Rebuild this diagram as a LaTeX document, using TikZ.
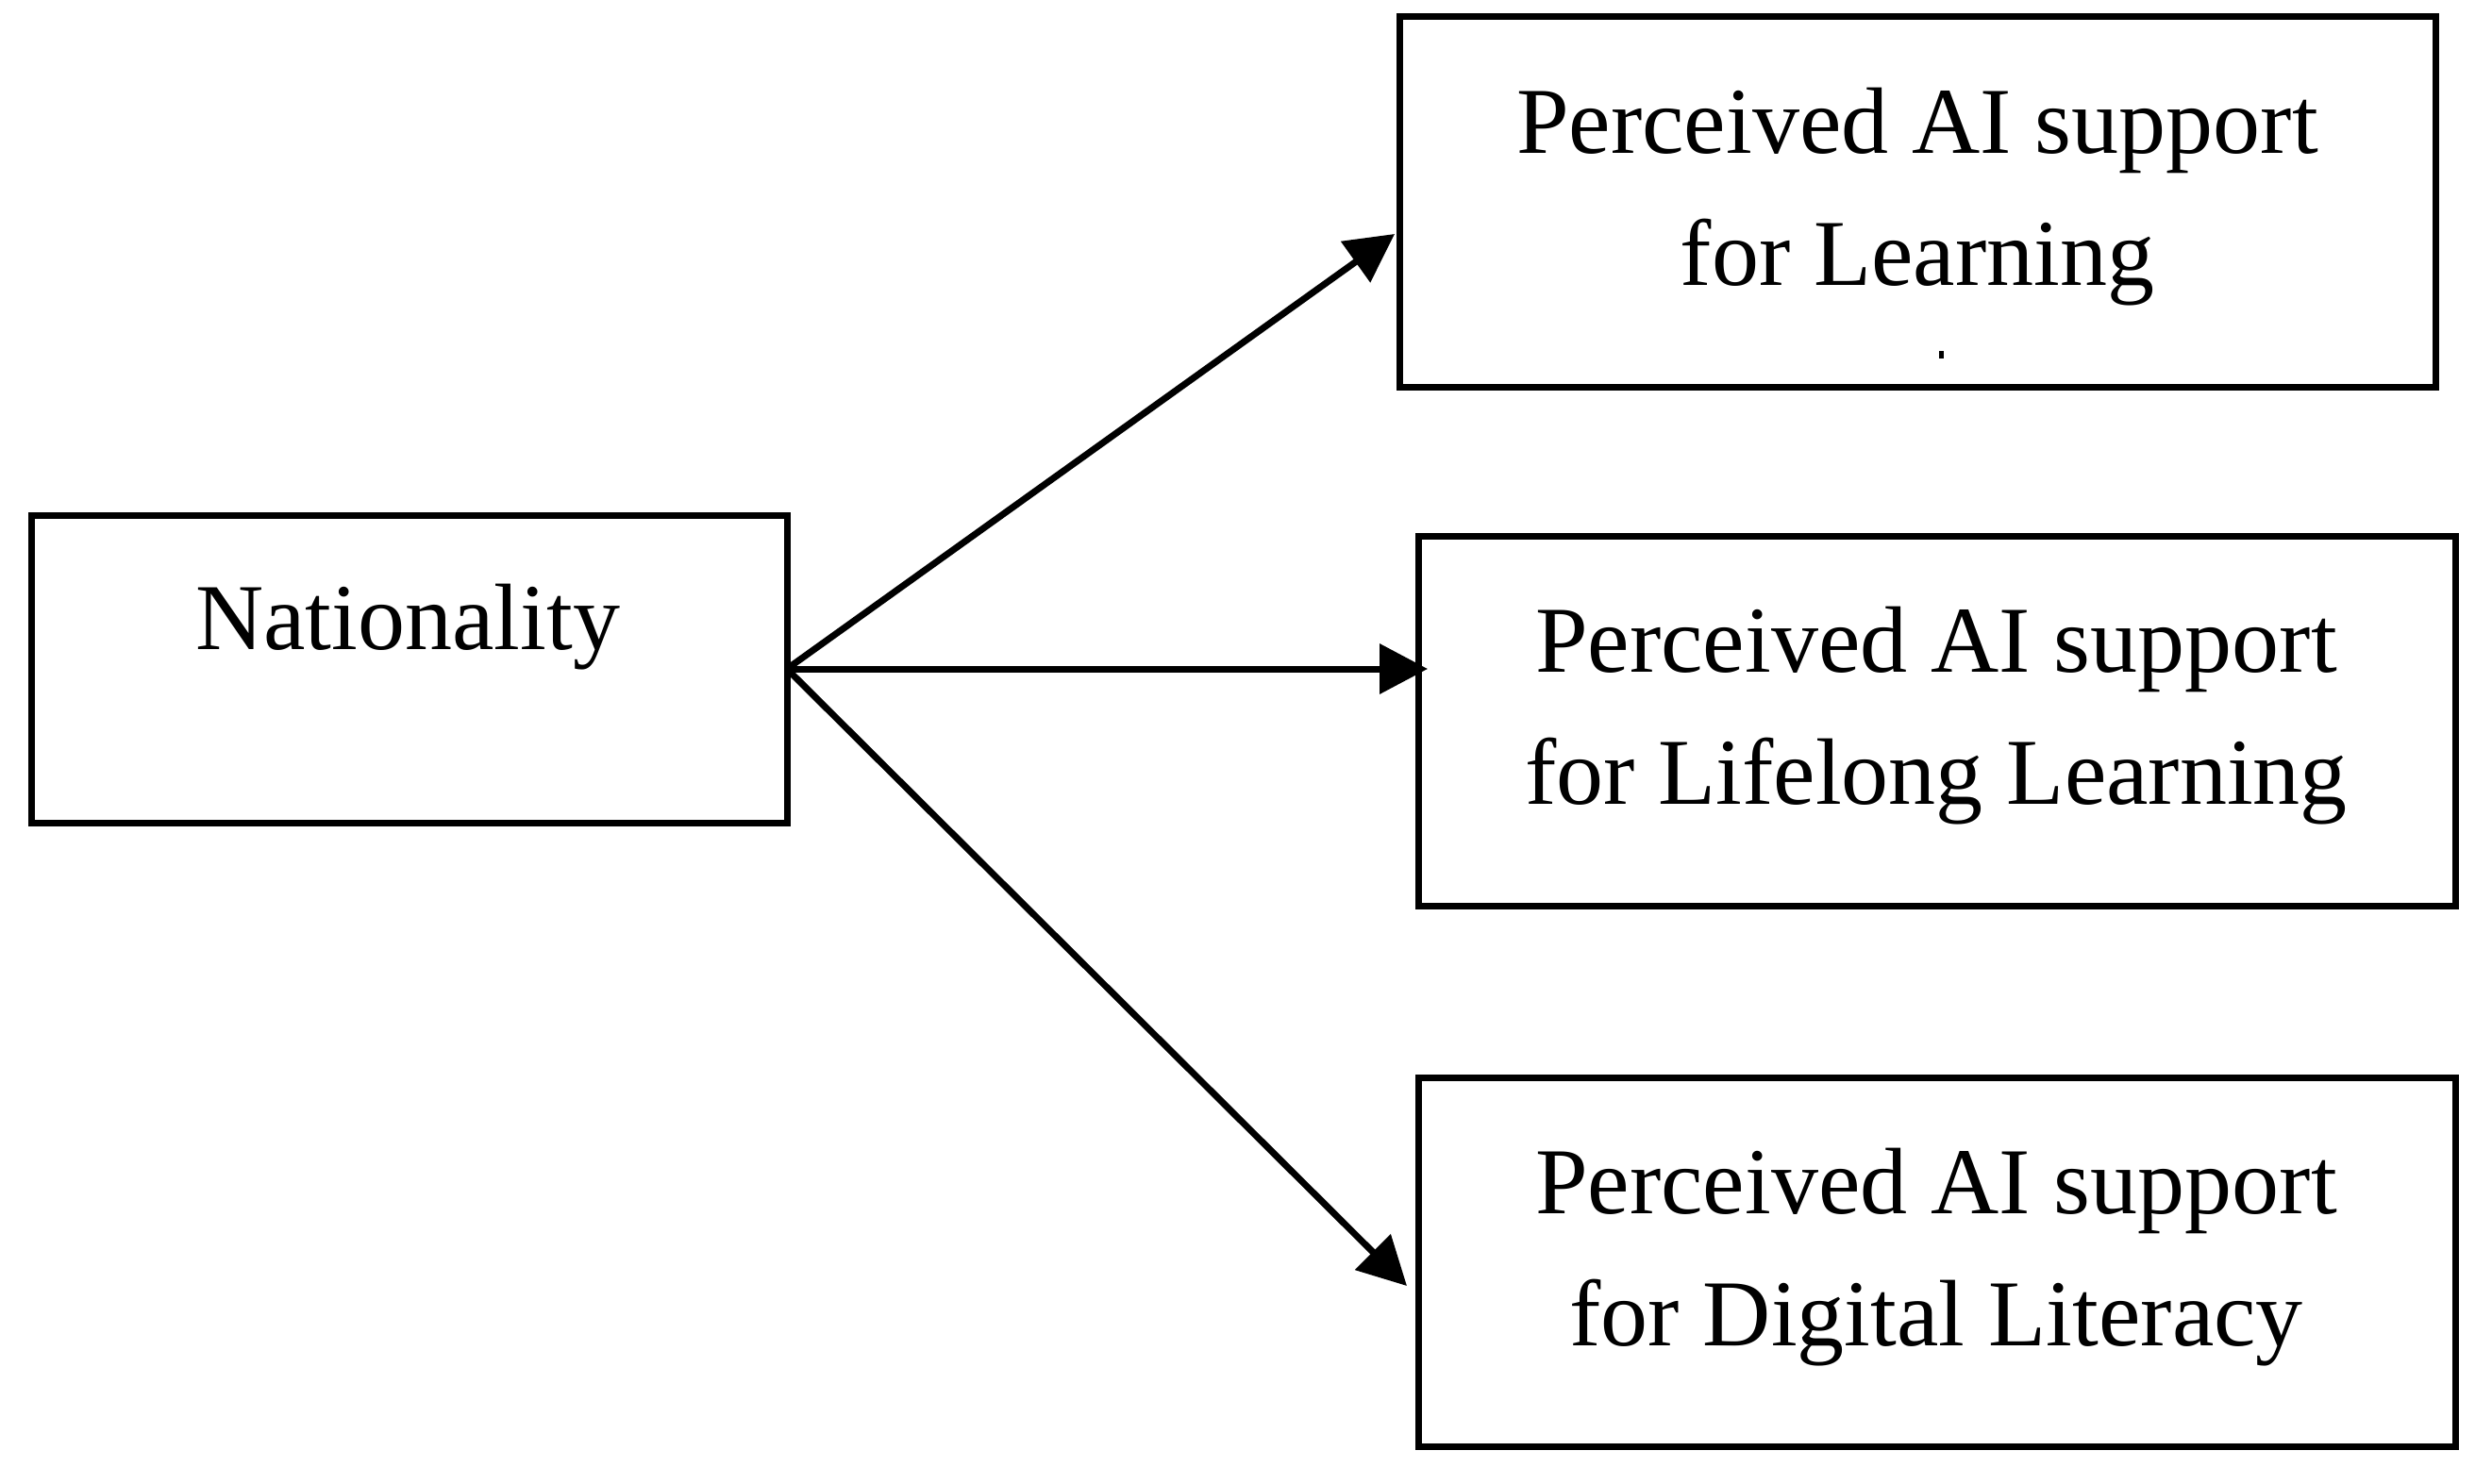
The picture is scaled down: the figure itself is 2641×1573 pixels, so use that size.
\documentclass[tikz,border=0pt]{standalone}
\usepackage{fontspec}
\setmainfont{Liberation Serif}
\usetikzlibrary{arrows.meta}
\begin{document}
\begin{tikzpicture}[x=1pt,y=-1pt,
  box/.style={draw, line width=7pt, inner sep=0pt, outer sep=0pt, rectangle},
  lbl/.style={inner sep=0pt, align=center, font=\fontsize{100}{140}\selectfont},
  arr/.style={line width=7pt, -{Triangle[length=51pt,width=52pt]}}]
\fill[white] (0,0) rectangle (2641,1573);
\useasboundingbox (0,0) rectangle (2641,1573);
% boxes
\node[box, minimum width=801pt, minimum height=326pt] (nat) at (433.5,709) {};
\node[box, minimum width=1098pt, minimum height=392pt] (b1) at (2032,214) {};
\node[box, minimum width=1099pt, minimum height=392pt] (b2) at (2052.5,764) {};
\node[box, minimum width=1099pt, minimum height=391pt] (b3) at (2052.5,1337.5) {};
% texts
\node[lbl, anchor=base] (natt) at (432,688) {Nationality};
\node[lbl] (b1t) at (2032,209) {Perceived AI support\\for Learning};
\node[lbl] (b2t) at (2052,759) {Perceived AI support\\for Lifelong Learning};
\node[lbl] (b3t) at (2052,1333) {Perceived AI support\\for Digital Literacy};
\fill (2055,372) rectangle (2060,380);
% arrow tips
\coordinate (t1) at (1478,248);
\coordinate (t2) at (1513,709);
\coordinate (t3) at (1491,1363);
\draw[arr] (nat.east) -- (t1);
\draw[arr] (nat.east) -- (t2);
\draw[arr] (nat.east) -- (t3);
\end{tikzpicture}
\end{document}
